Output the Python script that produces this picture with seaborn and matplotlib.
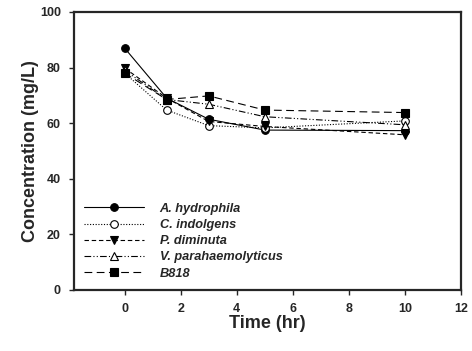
import pandas as pd
import seaborn as sns
import matplotlib.pyplot as plt

time = [0, 1.5, 3, 5, 10]
a_hydrophila = [87, 69, 61.4, 57.5, 57.3]
c_indolgens = [78, 64.7, 59.1, 58.3, 60.8]
p_diminuta = [79.8, 69, 60.6, 58.8, 55.8]
v_parahaemolyticus = [79, 68.5, 66.8, 62.3, 59.4]
b818 = [78, 68.5, 69.8, 64.7, 63.8]
names = ["A. hydrophila", "C. indolgens", "P. diminuta", "V. parahaemolyticus", "B818"]

sns.set_style("ticks")
plt.rcParams['font.family'] = ['Liberation Sans', 'DejaVu Sans']

df = pd.DataFrame({"Time": time * 5,
                   "Conc": a_hydrophila + c_indolgens + p_diminuta + v_parahaemolyticus + b818,
                   "Strain": [n for n in names for _ in time]})

fig = plt.figure(figsize=(4.72, 3.51), dpi=100)
ax = fig.add_axes([0.157, 0.174, 0.82, 0.792])

styles = {
    "A. hydrophila": dict(marker="o", mfc="black", dashes=None),
    "C. indolgens": dict(marker="o", mfc="white", dashes=(1, 1.5)),
    "P. diminuta": dict(marker="v", mfc="black", dashes=(4, 2.5)),
    "V. parahaemolyticus": dict(marker="^", mfc="white", dashes=(6, 2, 1, 2, 1, 2)),
    "B818": dict(marker="s", mfc="black", dashes=(7, 4)),
}

for name in names:
    st = styles[name]
    sub = df[df.Strain == name]
    sns.lineplot(data=sub, x="Time", y="Conc", ax=ax, color="black", lw=0.8,
                 marker=st["marker"], markersize=5.5, markerfacecolor=st["mfc"],
                 markeredgecolor="black", markeredgewidth=0.8, label=name)
    line = ax.lines[-1]
    if st["dashes"] is not None:
        line.set_dashes(st["dashes"])

ax.set_xlim(-1.8, 12)
ax.set_ylim(0, 100)
ax.set_xticks([0, 2, 4, 6, 8, 10, 12])
ax.set_yticks([0, 20, 40, 60, 80, 100])
for lab in ax.get_xticklabels() + ax.get_yticklabels():
    lab.set_fontweight("bold")
    lab.set_fontsize(9)
ax.tick_params(direction="out", length=3.5, width=1, pad=6)
for s in ax.spines.values():
    s.set_linewidth(1.6)
    s.set_visible(True)
ax.set_xlabel("Time (hr)", fontsize=13, fontweight="bold", labelpad=0)
ax.set_ylabel("Concentration (mg/L)", fontsize=13, fontweight="bold", labelpad=1)

leg = ax.legend(loc="lower left", frameon=False, fontsize=9.2, handlelength=4.7,
                borderaxespad=0.4, labelspacing=0.33, handletextpad=1.2,
                bbox_to_anchor=(0.0, 0.0))
for t in leg.get_texts():
    t.set_fontstyle("italic")
    t.set_fontweight("bold")

fig.savefig("out.png", dpi=100)
